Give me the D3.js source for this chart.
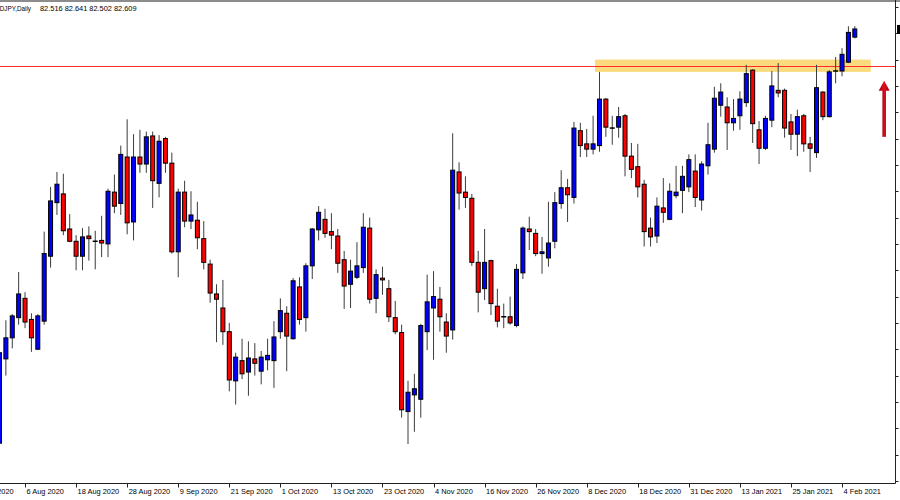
<!DOCTYPE html>
<html>
<head>
<meta charset="utf-8">
<script src="https://cdn.jsdelivr.net/npm/d3@7"></script>
<style>
  html, body { margin: 0; padding: 0; background: #ffffff; }
  svg { display: block; }
</style>
</head>
<body>
<div id="chart"></div>
<script>
// ---- data (CADJPY, Daily) ----
const symbol = "CADJPY,Daily";
const opens = [77.89,78.85,79.09,79.32,79.54,79.30,78.96,79.28,80.02,80.63,80.73,80.33,80.19,80.02,80.25,80.19,80.20,80.16,80.75,80.62,
81.15,80.41,81.15,81.07,81.39,80.85,81.36,81.08,80.07,80.75,80.42,80.43,80.22,79.93,79.59,79.43,79.16,78.60,78.83,78.70,
78.85,78.71,78.84,78.83,79.16,79.37,79.08,79.67,79.32,79.91,80.32,80.44,80.30,80.25,79.98,79.70,79.78,79.89,80.34,79.54,
79.77,79.65,79.32,79.15,78.25,78.44,78.39,79.16,79.43,79.53,79.27,79.18,80.98,80.75,80.68,79.95,79.65,79.97,79.45,79.33,
79.33,79.23,79.83,80.33,80.28,80.05,80.00,80.19,80.62,80.80,80.69,81.45,81.30,81.24,81.28,81.81,81.48,81.49,81.62,81.16,
81.04,80.84,80.34,80.25,80.57,80.44,80.71,80.77,80.81,80.99,80.66,81.05,81.24,81.74,81.72,81.54,81.62,81.77,82.14,81.46,
81.25,81.57,81.91,81.91,81.55,81.41,81.62,81.30,81.20,81.89,81.61,82.13,82.13,82.23,82.516];
const highs = [79.07,79.29,79.36,79.84,79.61,79.37,79.36,80.30,80.81,80.98,80.96,80.50,80.26,80.34,80.36,80.31,80.48,80.79,80.95,81.28,
81.58,81.41,81.46,81.44,81.44,81.40,81.38,81.20,80.79,80.88,80.76,80.64,80.42,79.98,79.70,79.75,79.26,78.92,79.08,79.05,
79.03,78.94,79.08,79.28,79.54,79.45,79.77,79.78,79.94,80.34,80.59,80.56,80.51,80.33,80.08,79.98,80.18,80.51,80.46,79.87,
79.90,79.75,79.51,79.24,78.60,78.68,79.25,79.81,79.85,79.67,79.37,81.42,81.09,80.93,80.73,80.08,80.33,79.98,79.65,79.48,
79.56,79.93,80.36,80.47,80.33,80.24,80.64,80.75,81.00,80.90,81.55,81.54,81.47,81.62,82.12,81.82,81.62,81.72,81.64,81.31,
81.30,80.89,80.46,80.69,80.91,80.85,81.05,81.05,81.18,81.18,81.10,81.54,81.95,81.99,81.83,81.81,81.90,82.20,82.15,81.56,
81.62,82.13,82.22,81.93,81.64,81.69,81.64,81.38,82.20,81.90,82.14,82.29,82.39,82.64,82.641];
const lows = [77.56,78.66,78.97,79.24,79.20,78.93,78.95,79.24,79.89,80.49,80.26,80.18,79.86,79.86,79.97,79.87,80.01,80.01,80.51,80.49,
80.27,80.20,80.97,80.97,80.57,80.69,80.97,80.05,79.78,80.35,80.33,80.10,79.87,79.49,79.04,79.01,78.48,78.33,78.62,78.43,
78.66,78.56,78.72,78.52,79.08,78.71,79.07,79.24,79.16,79.76,80.20,80.23,80.10,79.83,79.42,79.43,79.76,79.83,79.48,79.37,
79.58,79.27,79.13,78.18,77.88,78.02,78.18,78.95,78.84,79.16,78.92,79.07,80.55,80.57,79.91,79.38,79.52,79.35,79.21,79.20,
79.24,79.21,79.76,80.09,80.02,79.82,79.90,80.11,80.56,80.41,80.62,81.15,81.15,81.18,81.21,81.38,81.29,81.37,80.93,80.91,
80.69,80.13,80.13,80.17,80.40,80.43,80.68,80.51,80.75,80.58,80.54,80.95,81.20,81.61,81.23,81.45,81.46,81.72,81.31,81.07,
81.23,81.49,81.83,81.37,81.23,81.16,81.21,80.98,81.14,81.57,81.60,81.99,82.07,82.22,82.502];
const closes = [78.92,79.09,79.34,79.59,79.27,79.09,79.34,80.05,80.65,80.84,80.31,80.19,80.02,80.24,80.22,80.19,80.17,80.76,80.59,81.18,
80.40,81.15,81.07,81.38,80.88,81.33,81.08,80.07,80.75,80.42,80.49,80.23,79.95,79.60,79.53,79.16,78.61,78.87,78.68,78.86,
78.80,78.87,78.89,79.10,79.40,79.11,79.74,79.30,79.91,80.33,80.52,80.28,80.26,79.94,79.68,79.85,79.91,80.35,79.53,79.81,
79.75,79.33,79.16,78.27,78.47,78.51,79.23,79.50,79.56,79.33,79.11,81.00,80.74,80.69,79.95,79.61,79.95,79.48,79.28,79.33,
79.26,79.87,80.34,80.30,80.05,80.07,80.17,80.63,80.80,80.72,81.48,81.28,81.24,81.30,81.81,81.49,81.48,81.61,81.16,81.01,
80.81,80.30,80.24,80.59,80.52,80.76,80.75,80.93,81.12,80.69,81.07,81.29,81.82,81.89,81.54,81.59,81.81,82.10,81.53,81.25,
81.59,81.96,81.88,81.48,81.41,81.61,81.30,81.25,81.94,81.61,82.12,82.13,82.32,82.57,82.609];

// date axis labels and the bar index each one sits on
const tickLabels = ["27 Jul 2020","6 Aug 2020","18 Aug 2020","28 Aug 2020","9 Sep 2020","21 Sep 2020","1 Oct 2020",
  "13 Oct 2020","23 Oct 2020","4 Nov 2020","16 Nov 2020","26 Nov 2020","8 Dec 2020","18 Dec 2020","31 Dec 2020",
  "13 Jan 2021","25 Jan 2021","4 Feb 2021"];
const tickBars = [-4,4,12,20,28,36,44,52,60,68,76,84,92,100,108,116,124,132];
// price axis tick values
const priceTicks = [82.86,82.56,82.26,81.96,81.66,81.36,81.06,80.76,80.46,80.16,79.86,79.56,79.26,78.96,78.66,78.36,78.06,77.76,77.46];

// annotations
const resistanceLevel = [82.19];
const zonePrices = [82.12, 82.26];
const zoneBars = [93.3, 136.5];
const arrowBar = [138.6];
const arrowPrices = [81.38, 82.02];

// ---- drawing ----
const W = 900, H = 500;
const plotRight = 895.5, plotBottom = 483.5;
const FONT = "Liberation Sans, Arial, sans-serif";

const svg = d3.select("#chart").append("svg")
  .attr("width", W).attr("height", H)
  .style("background", "#ffffff");

const x = d3.scaleLinear().domain([0, 134]).range([-0.5, 854.8]);
const y = d3.scaleLinear().domain([77.436, 82.939]).range([483, 0]);

const bars = opens.map((o, i) => ({ i, o, h: highs[i], l: lows[i], c: closes[i] }));

const defs = svg.append("defs");
defs.append("clipPath").attr("id", "plot")
  .append("rect").attr("x", 0).attr("y", 0).attr("width", plotRight).attr("height", plotBottom);

const plot = svg.append("g").attr("clip-path", "url(#plot)");

// yellow zone
plot.append("rect")
  .attr("x", x(zoneBars[0])).attr("width", x(zoneBars[1]) - x(zoneBars[0]))
  .attr("y", y(zonePrices[1])).attr("height", y(zonePrices[0]) - y(zonePrices[1]))
  .attr("fill", "#f8d66e").attr("opacity", 0.9);

// resistance line
plot.append("line")
  .attr("x1", 0).attr("x2", plotRight)
  .attr("y1", Math.round(y(resistanceLevel[0])) + 0.5).attr("y2", Math.round(y(resistanceLevel[0])) + 0.5)
  .attr("stroke", "#ff2a2a").attr("stroke-width", 1);

// candles
const cg = plot.append("g");
cg.selectAll("line.wick").data(bars).join("line")
  .attr("class", "wick")
  .attr("x1", d => x(d.i)).attr("x2", d => x(d.i))
  .attr("y1", d => y(d.h)).attr("y2", d => y(d.l))
  .attr("stroke", "#3c3c3c").attr("stroke-width", 1);

cg.selectAll("rect.body").data(bars.filter(d => d.o !== d.c)).join("rect")
  .attr("class", "body")
  .attr("x", d => x(d.i) - 2).attr("width", 4)
  .attr("y", d => y(Math.max(d.o, d.c)))
  .attr("height", d => Math.max(1, Math.abs(y(d.o) - y(d.c))))
  .attr("fill", d => d.c > d.o ? "#0000ff" : "#ff0000")
  .attr("stroke", "#000000").attr("stroke-width", 1);

cg.selectAll("line.doji").data(bars.filter(d => d.o === d.c)).join("line")
  .attr("class", "doji")
  .attr("x1", d => x(d.i) - 2.5).attr("x2", d => x(d.i) + 2.5)
  .attr("y1", d => y(d.o)).attr("y2", d => y(d.o))
  .attr("stroke", "#000000").attr("stroke-width", 1.5);

// arrow
const grad = defs.append("linearGradient").attr("id", "arrowGrad")
  .attr("x1", "0").attr("x2", "1").attr("y1", "0").attr("y2", "0");
grad.append("stop").attr("offset", "0%").attr("stop-color", "#a00010");
grad.append("stop").attr("offset", "50%").attr("stop-color", "#e01020");
grad.append("stop").attr("offset", "100%").attr("stop-color", "#a00010");
const ax = x(arrowBar[0]);
const yTail = y(arrowPrices[0]), yTip = y(arrowPrices[1]);
svg.append("rect").attr("x", ax - 1.75).attr("width", 3.5)
  .attr("y", yTip + 9).attr("height", yTail - yTip - 9)
  .attr("fill", "url(#arrowGrad)");
svg.append("path")
  .attr("d", `M${ax},${yTip} L${ax + 5.5},${yTip + 10} L${ax - 5.5},${yTip + 10} Z`)
  .attr("fill", "url(#arrowGrad)");

// frame
svg.append("line").attr("x1", 0).attr("x2", W).attr("y1", 1).attr("y2", 1)
  .attr("stroke", "#8c8c8c").attr("stroke-width", 2);
svg.append("line").attr("x1", plotRight).attr("x2", plotRight).attr("y1", 0).attr("y2", plotBottom)
  .attr("stroke", "#222").attr("stroke-width", 1);
svg.append("line").attr("x1", 0).attr("x2", plotRight).attr("y1", plotBottom).attr("y2", plotBottom)
  .attr("stroke", "#222").attr("stroke-width", 1);

// price ticks (right)
svg.selectAll("line.ptick").data(priceTicks).join("line")
  .attr("class", "ptick")
  .attr("x1", plotRight).attr("x2", plotRight + 3)
  .attr("y1", d => Math.round(y(d)) + 0.5).attr("y2", d => Math.round(y(d)) + 0.5)
  .attr("stroke", "#222");

// current price marker (label box edge only visible)
const last = bars[bars.length - 1];
svg.append("rect").attr("x", plotRight + 1.5).attr("y", y(last.c) - 4)
  .attr("width", 10).attr("height", 9).attr("fill", "#000");

// date ticks + labels
svg.selectAll("line.dtick").data(tickBars).join("line")
  .attr("class", "dtick")
  .attr("x1", d => Math.round(x(d)) + 0.5).attr("x2", d => Math.round(x(d)) + 0.5)
  .attr("y1", plotBottom).attr("y2", plotBottom + 4)
  .attr("stroke", "#222");
svg.selectAll("text.dlabel").data(tickBars).join("text")
  .attr("class", "dlabel")
  .attr("x", d => x(d) + 1.5).attr("y", 494)
  .attr("font-family", FONT)
  .attr("font-size", 7.4).attr("fill", "#000")
  .text((d, k) => tickLabels[k]);

// title
svg.append("text").attr("x", -9).attr("y", 11)
  .attr("font-family", FONT)
  .attr("font-size", 7.4).attr("fill", "#000")
  .attr("textLength", 40).attr("lengthAdjust", "spacingAndGlyphs")
  .text(symbol);
svg.append("text").attr("x", 40).attr("y", 11)
  .attr("font-family", FONT)
  .attr("font-size", 7.4).attr("fill", "#000")
  .text([last.o, last.h, last.l, last.c].map(v => v.toFixed(3)).join(" "));
</script>
</body>
</html>
